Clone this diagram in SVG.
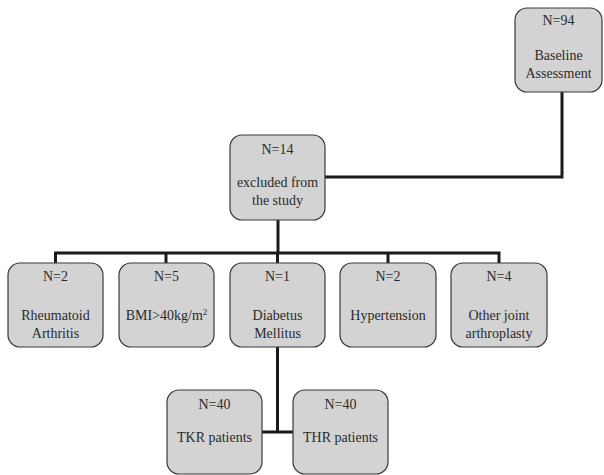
<svg xmlns="http://www.w3.org/2000/svg" width="604" height="475" viewBox="0 0 604 475">
<style>
.box{fill:#d3d3d3;stroke:#3a3a3a;stroke-width:1.2}
.t{font-size:14px;fill:#2a2a2a;text-anchor:middle}
.c{fill:none;stroke:#1a1a1a;stroke-width:3}
</style>
<rect width="604" height="475" fill="#ffffff"/>
<g id="connectors">
<path class="c" d="M562,92 V177 H325"/>
<path class="c" d="M278,220 V253"/>
<path class="c" d="M55.5,263 V253 H499 V263"/>
<path class="c" d="M166,253 V263"/>
<path class="c" d="M277.5,253 V263"/>
<path class="c" d="M388,253 V263"/>
<path class="c" d="M277.5,347 V432"/>
<path class="c" d="M262,432 H293"/>
</g>
<g font-family="'Liberation Serif', 'Times New Roman', 'DejaVu Serif', serif">
<g id="baseline">
<rect class="box" x="515" y="8" width="87" height="84" rx="12"/>
<text class="t" x="558.5" y="25">N=94</text>
<text class="t" x="558.5" y="60">Baseline</text>
<text class="t" x="558.5" y="78">Assessment</text>
</g>
<g id="excluded">
<rect class="box" x="230" y="135" width="95" height="85" rx="12"/>
<text class="t" x="277.5" y="154">N=14</text>
<text class="t" x="277.5" y="187">excluded from</text>
<text class="t" x="277.5" y="205">the study</text>
</g>
<g id="ra">
<rect class="box" x="8" y="263" width="95" height="84" rx="12"/>
<text class="t" x="55.5" y="281">N=2</text>
<text class="t" x="55.5" y="320">Rheumatoid</text>
<text class="t" x="55.5" y="338">Arthritis</text>
</g>
<g id="bmi">
<rect class="box" x="119" y="263" width="95" height="84" rx="12"/>
<text class="t" x="166.5" y="281">N=5</text>
<text class="t" x="166.5" y="320">BMI&gt;40kg/m<tspan font-size="9" dy="-5">2</tspan></text>
</g>
<g id="dm">
<rect class="box" x="230" y="263" width="95" height="84" rx="12"/>
<text class="t" x="277.5" y="281">N=1</text>
<text class="t" x="277.5" y="320">Diabetus</text>
<text class="t" x="277.5" y="338">Mellitus</text>
</g>
<g id="ht">
<rect class="box" x="340" y="263" width="96" height="84" rx="12"/>
<text class="t" x="388" y="281">N=2</text>
<text class="t" x="388" y="320">Hypertension</text>
</g>
<g id="other">
<rect class="box" x="451" y="263" width="96" height="84" rx="12"/>
<text class="t" x="499" y="281">N=4</text>
<text class="t" x="499" y="320">Other joint</text>
<text class="t" x="499" y="338">arthroplasty</text>
</g>
<g id="tkr">
<rect class="box" x="167" y="390" width="95" height="84" rx="12"/>
<text class="t" x="214.5" y="409">N=40</text>
<text class="t" x="214.5" y="442">TKR patients</text>
</g>
<g id="thr">
<rect class="box" x="293" y="390" width="95" height="84" rx="12"/>
<text class="t" x="340.5" y="409">N=40</text>
<text class="t" x="340.5" y="442">THR patients</text>
</g>
</g>
</svg>
